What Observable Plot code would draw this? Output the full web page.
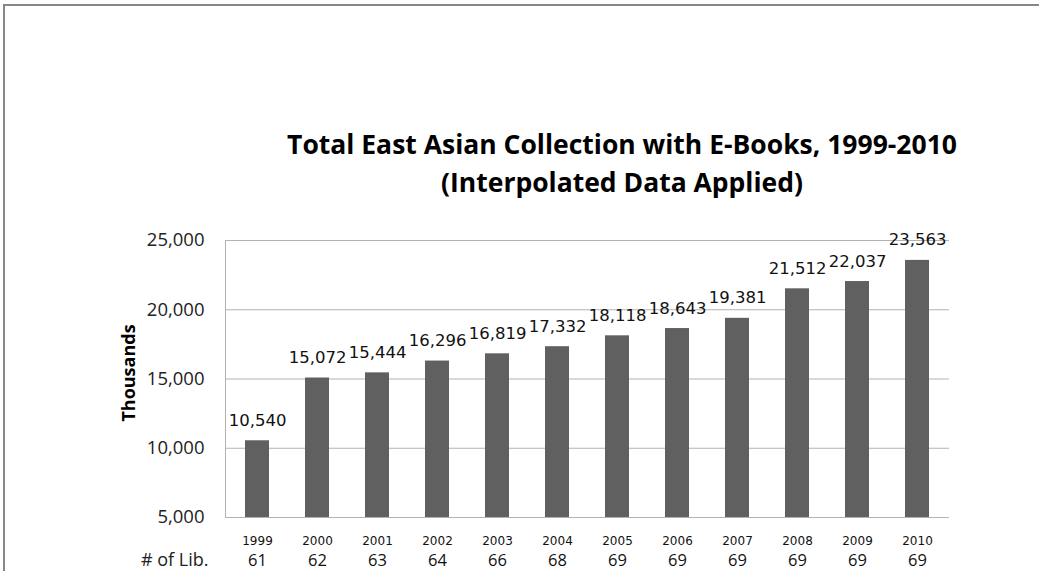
<!DOCTYPE html>
<html>
<head>
<meta charset="utf-8">
<script src="https://cdn.jsdelivr.net/npm/d3@7"></script>
<script src="https://cdn.jsdelivr.net/npm/@observablehq/plot@0.6"></script>
<style>
  html, body { margin: 0; padding: 0; background: #fff; }
  #wrap { position: relative; width: 1039px; height: 571px; overflow: hidden; }
  #border { position: absolute; left: 3px; top: 4px; right: -5px; bottom: -5px; border-top: 2px solid #878787; border-left: 2px solid #878787; }
  #title { position: absolute; left: 222px; width: 800px; top: 125px; text-align: center; font-family: "Open Sans", sans-serif; font-weight: bold; font-size: 26.5px; line-height: 38px; color: #000; }
  #chart { position: absolute; left: 0; top: 0; }
</style>
</head>
<body>
<div id="wrap">
  <div id="border"></div>
  <div id="chart"></div>
  <div id="title">Total East Asian Collection with E-Books, 1999-2010<br>(Interpolated Data Applied)</div>
</div>
<script>
const years = ["1999","2000","2001","2002","2003","2004","2005","2006","2007","2008","2009","2010"];
const totals = [10540, 15072, 15444, 16296, 16819, 17332, 18118, 18643, 19381, 21512, 22037, 23563];
const libraries = [61, 62, 63, 64, 66, 68, 69, 69, 69, 69, 69, 69];
const yTicks = [5000, 10000, 15000, 20000, 25000];
const yAxisTitle = "Thousands";
const rowTitle = "# of Lib.";
const yMin = 5000, yMax = 25000;

const data = years.map((y, i) => ({year: y, total: totals[i], libs: libraries[i]}));
const fmt = d3.format(",");
const tickFont = "'Open Sans', sans-serif";
const valueFont = "'DejaVu Sans', sans-serif";

const chart = Plot.plot({
  width: 1039,
  height: 571,
  marginLeft: 225,
  marginRight: 90,
  marginTop: 240,
  marginBottom: 54,
  style: {background: "transparent", overflow: "visible"},
  x: {domain: years, paddingInner: 0.6, paddingOuter: 0.3, axis: null, label: null},
  y: {domain: [yMin, yMax], axis: null, label: null},
  marks: [
    Plot.gridY(yTicks, {stroke: "#b3b3b3", strokeOpacity: 1, strokeWidth: 1}),
    Plot.frame({anchor: "left", stroke: "#b3b3b3", strokeWidth: 1}),
    Plot.barY(data, {x: "year", y1: yMin, y2: "total", fill: "#606060"}),
    Plot.text(data, {x: "year", y: "total", text: d => fmt(d.total), dy: -15, fontSize: 16.5, fontFamily: valueFont, fill: "#111", lineAnchor: "bottom"}),
    Plot.axisY(yTicks, {tickSize: 0, tickPadding: 21, tickFormat: d => fmt(d), fontSize: 18.5, fontFamily: tickFont, fill: "#222", label: null}),
    Plot.text(data, {x: "year", frameAnchor: "bottom", text: "year", dy: 27, fontSize: 12, fontFamily: valueFont, fill: "#111", lineAnchor: "bottom"}),
    Plot.text(data, {x: "year", frameAnchor: "bottom", text: d => String(d.libs), dy: 48, fontSize: 16.5, fontFamily: tickFont, fill: "#111", lineAnchor: "bottom"}),
    Plot.text([rowTitle], {frameAnchor: "bottom-left", text: d => d, dx: -17, dy: 48, textAnchor: "end", lineAnchor: "bottom", fontSize: 18, fontFamily: tickFont, fill: "#222"}),
    Plot.text([yAxisTitle], {frameAnchor: "left", text: d => d, rotate: -90, textAnchor: "middle", dx: -96, dy: -6, fontSize: 18, fontWeight: "bold", fontFamily: tickFont, fill: "#000"})
  ]
});
document.getElementById("chart").appendChild(chart);
</script>
</body>
</html>
